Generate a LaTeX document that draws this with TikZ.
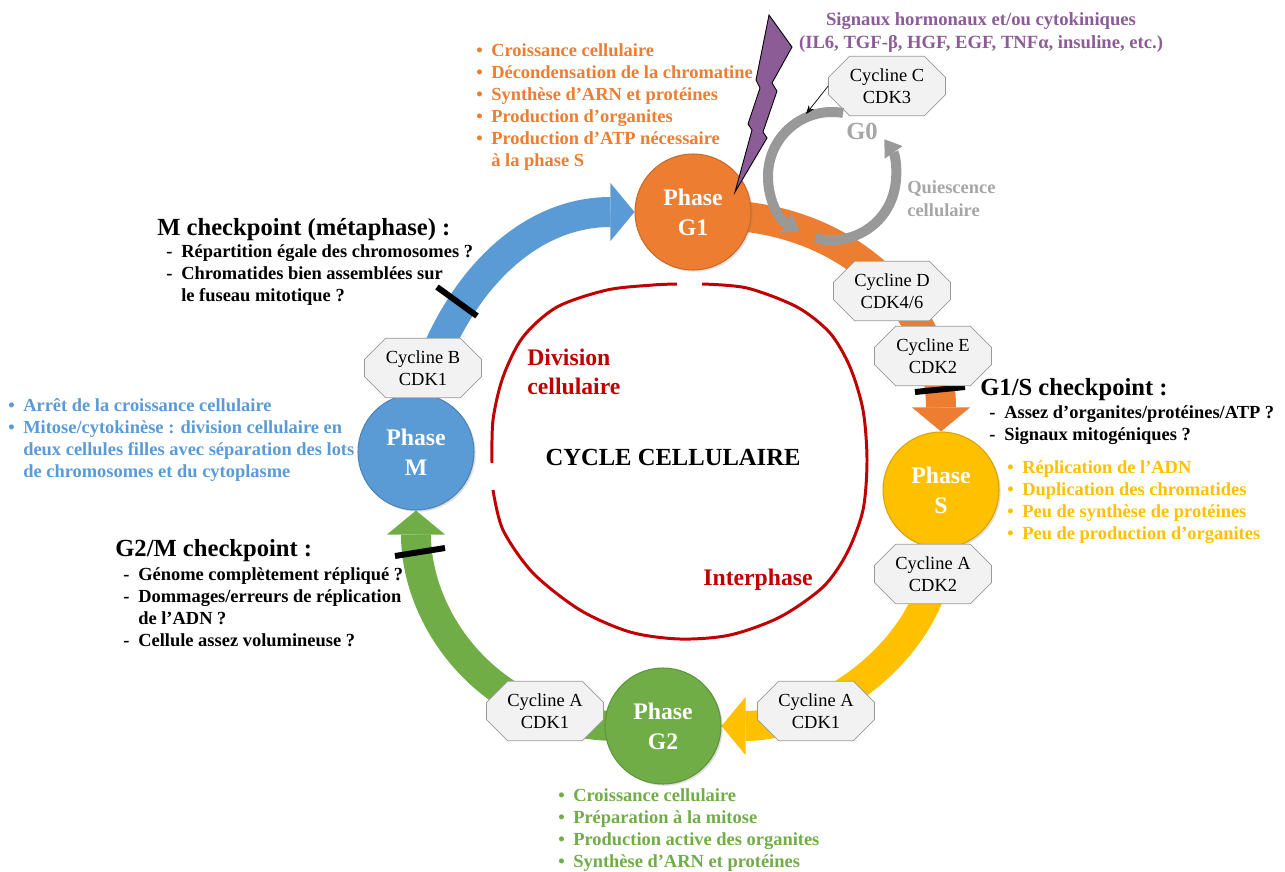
\documentclass[tikz,border=0pt]{standalone}
\usepackage{fontspec}
\setmainfont{Liberation Serif}
\usetikzlibrary{arrows.meta,shapes.misc,shadows}

\definecolor{cG1}{HTML}{ED7D31}
\definecolor{cS}{HTML}{FFC000}
\definecolor{cG2}{HTML}{70AD47}
\definecolor{cM}{HTML}{5B9BD5}
\definecolor{signal}{HTML}{8C5C96}
\definecolor{rouge}{HTML}{C00000}
\definecolor{gris}{HTML}{A6A6A6}
\definecolor{boucle}{HTML}{999999}

\pgfdeclarelayer{fond}
\pgfsetlayers{fond,main}

\newcommand{\bul}{\strut\makebox[8.5pt][l]{•}}
\newcommand{\tir}{\strut\makebox[8.5pt][l]{-}}
\newcommand{\retrait}{\strut\hspace*{8.5pt}}
\newcommand{\liste}{\fontsize{10.5pt}{12.5pt}\selectfont\bfseries}
\newcommand{\titre}{\fontsize{14pt}{16pt}\selectfont\bfseries}

\begin{document}
\begin{tikzpicture}[x=0.02cm, y=0.02cm, every node/.append style={inner sep=0pt}]
        \useasboundingbox (0,0) rectangle (1285,-872);

        % phases
        \begin{scope}[every node/.style={circle, minimum size=2.32cm, inner sep=0, line width=0.6pt, text=white, align=center, font=\fontsize{13.5pt}{17pt}\selectfont\bfseries, drop shadow={opacity=0.25, shadow xshift=1pt, shadow yshift=-1pt}}]
            \node [fill=cG1, draw=cG1!85!black] (G1) at (693,-212) {Phase\\G1};
            \node [fill=cS, draw=cS!85!black] (S) at (941,-490) {Phase\\S};
            \node [fill=cG2, draw=cG2!85!black] (G2) at (663,-726) {Phase\\G2};
            \node [fill=cM, draw=cM!85!black] (M) at (416,-452) {Phase\\M};
        \end{scope}

        \begin{pgfonlayer}{fond}
            % anneau interphase / division
            \begin{scope}[rouge, line width=1.7pt]
                \draw plot[smooth] coordinates {(702,-284) (747,-288) (797,-307) (830,-333) (850,-367) (863,-410) (867,-460) (863,-510) (847,-553) (823,-587) (780,-617) (730,-635) (680,-639) (630,-632) (580,-610) (533,-573) (503,-530) (493,-490)};
                \draw plot[smooth] coordinates {(492,-463) (493,-420) (503,-377) (523,-337) (557,-307) (607,-290) (653,-285) (677,-284)};
            \end{scope}
            % fleches du cycle
            \begin{scope}[every path/.style={line width=0.6cm, shorten <=-8pt, -{Triangle[width=1.16cm 0, length=0.48cm 0, line width=0pt 0]}}]
                \draw [cM] (M.85) to[out=75, in=180] (G1);
                \draw [cG1] (G1) to[out=-5, in=90] (S);
                \draw [cS] (S) to[out=-90, in=0, looseness=0.9] (G2);
                \draw [cG2] (G2) to[out=180, in=-90] (M);
            \end{scope}
        \end{pgfonlayer}

        % checkpoints
        \begin{scope}[line width=3.4pt]
            \draw (437,-287) -- (477,-316);
            \draw (915,-392) -- (965,-387);
            \draw (395,-556) -- (445,-548);
        \end{scope}

        % cyclines
        \begin{scope}[every node/.style={chamfered rectangle, chamfered rectangle xsep=6pt, chamfered rectangle ysep=6pt, draw=gray!80, fill=black!5, minimum width=2.34cm, minimum height=0.82cm, inner sep=1pt, align=center, font=\fontsize{10.5pt}{12.5pt}\selectfont}]
            \node (cC) at (887,-86) {Cycline C\\CDK3};
            \node (cD) at (892,-291) {Cycline D\\CDK4/6};
            \node (cE) at (933,-356) {Cycline E\\CDK2};
            \node (cA2) at (933,-574) {Cycline A\\CDK2};
            \node (cA1d) at (816,-711) {Cycline A\\CDK1};
            \node (cA1g) at (545,-711) {Cycline A\\CDK1};
            \node (cB) at (423,-368) {Cycline B\\CDK1};
        \end{scope}

        % signal
        \draw [fill=signal, line width=0.5pt] (769,-15) -- (792,-47) -- (772,-83) -- (777,-91) -- (763,-132) -- (767,-138) -- (735,-192) -- (752,-130) -- (748,-124) -- (760,-88) -- (756,-80) -- cycle;

        % G0
        \coordinate (g0c) at (832,-176);
        \coordinate (g0top) at (806,-114);
        \begin{scope}[boucle, line width=0.2cm, -{Triangle[width=0.44cm 0, length=0.32cm 0, line width=0pt 0]}]
            \draw (g0c) ++(80:64) arc[start angle=80, end angle=240, radius=1.28cm];
            \draw (g0c) ++(255:64) arc[start angle=255, end angle=395, radius=1.28cm];
        \end{scope}
        \draw [-{Stealth[length=5pt]}, line width=0.4pt] (cC.west) -- (g0top);
        \node [text=gris, font=\titre] (G0) at (862,-131) {G0};
        \node [anchor=north west, align=left, text=gris, font=\fontsize{10.5pt}{13pt}\selectfont\bfseries] (quies) at (907,-177) {\strut Quiescence\\\strut cellulaire};

        % textes
        \node [anchor=north, align=center, text=signal, font=\fontsize{10.6pt}{13pt}\selectfont\bfseries] (sig) at (981,-9) {\strut Signaux hormonaux et/ou cytokiniques\\\strut (IL6, TGF-β, HGF, EGF, TNFα, insuline, etc.)};
        \node [anchor=north west, align=left, text=cG1, font=\liste] (lG1) at (476,-41) {\bul Croissance cellulaire\\\bul Décondensation de la chromatine\\\bul Synthèse d’ARN et protéines\\\bul Production d’organites\\\bul Production d’ATP nécessaire\\\retrait à la phase S};
        \node [anchor=north west, align=left, text=cS, font=\liste] (lS) at (1007,-458) {\bul Réplication de l’ADN\\\bul Duplication des chromatides\\\bul Peu de synthèse de protéines\\\bul Peu de production d’organites};
        \node [anchor=north west, align=left, text=cG2, font=\liste] (lG2) at (558,-786) {\bul Croissance cellulaire\\\bul Préparation à la mitose\\\bul Production active des organites\\\bul Synthèse d’ARN et protéines};
        \node [anchor=north west, align=left, text=cM, font=\liste] (lM) at (8,-396) {\bul Arrêt de la croissance cellulaire\\\bul Mitose/cytokinèse : division cellulaire en\\\retrait deux cellules filles avec séparation des lots\\\retrait de chromosomes et du cytoplasme};

        \node [anchor=north west, font=\titre] (tM) at (157,-215) {\strut M checkpoint (métaphase) :};
        \node [anchor=north west, align=left, font=\liste] (iM) at (166,-242) {\tir Répartition égale des chromosomes ?\\\tir Chromatides bien assemblées sur\\\retrait le fuseau mitotique ?};
        \node [anchor=north west, font=\titre] (tGS) at (980,-375) {\strut G1/S checkpoint :};
        \node [anchor=north west, align=left, font=\liste] (iGS) at (989,-403) {\tir Assez d’organites/protéines/ATP ?\\\tir Signaux mitogéniques ?};
        \node [anchor=north west, font=\titre] (tGM) at (115,-536) {\strut G2/M checkpoint :};
        \node [anchor=north west, align=left, font=\liste] (iGM) at (123,-565) {\tir Génome complètement répliqué ?\\\tir Dommages/erreurs de réplication\\\retrait de l’ADN ?\\\tir Cellule assez volumineuse ?};

        \node [font=\titre] (cycle) at (673,-457) {CYCLE CELLULAIRE};
        \node [anchor=north west, align=left, text=rouge, font=\fontsize{13.5pt}{16.4pt}\selectfont\bfseries] (div) at (527,-345) {\strut Division\\\strut cellulaire};
        \node [anchor=base west, text=rouge, font=\fontsize{13.5pt}{16.4pt}\selectfont\bfseries] (inter) at (703,-585) {Interphase};
    \end{tikzpicture}
\end{document}
